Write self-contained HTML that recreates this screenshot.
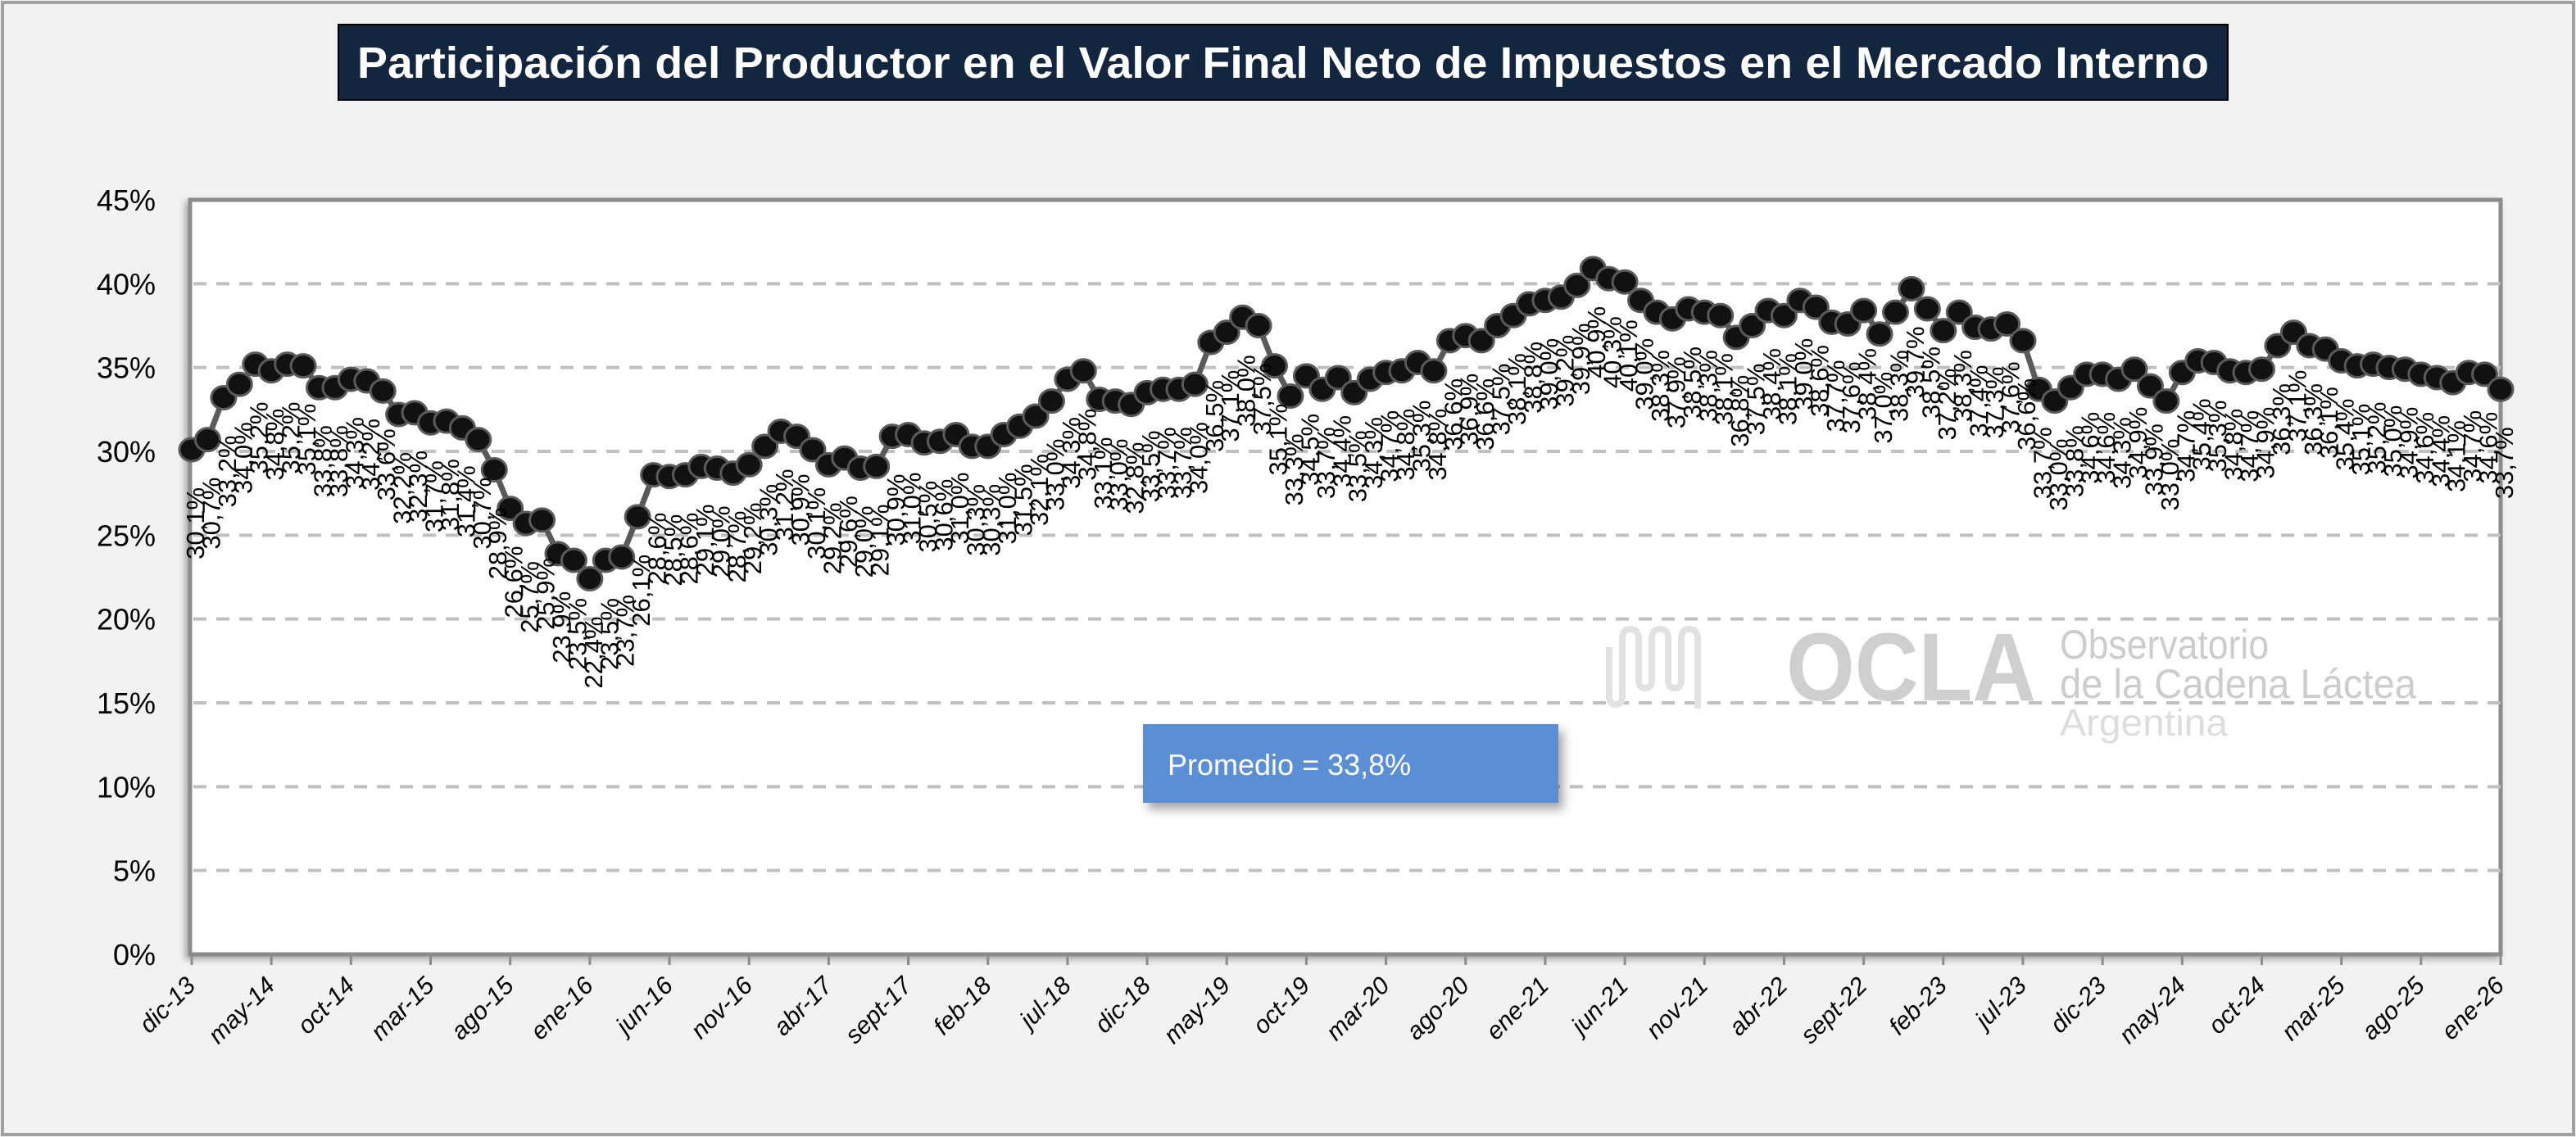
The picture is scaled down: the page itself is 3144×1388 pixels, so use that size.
<!DOCTYPE html>
<html><head><meta charset="utf-8"><style>
html,body{margin:0;padding:0;background:#f2f2f2;}
svg{display:block;font-family:"Liberation Sans",sans-serif;}
</style></head><body>
<svg id="chart" width="3144" height="1388" viewBox="0 0 3144 1388" xmlns="http://www.w3.org/2000/svg">
<defs>
<filter id="sh" x="-10%" y="-10%" width="130%" height="140%"><feDropShadow dx="6" dy="8" stdDeviation="6" flood-color="#000" flood-opacity="0.35"/></filter>
<filter id="sh2" x="-2%" y="-2%" width="104%" height="104%"><feDropShadow dx="-4" dy="4" stdDeviation="4" flood-color="#000" flood-opacity="0.3"/></filter>
</defs>
<rect x="3" y="3" width="3138" height="1382" fill="#f2f2f2" stroke="#a0a0a0" stroke-width="4"/>
<rect x="413" y="30" width="2306" height="92" fill="#12263f" stroke="#000" stroke-width="2"/>
<text x="1566" y="95" text-anchor="middle" fill="#fff" font-weight="bold" font-size="54" textLength="2260" lengthAdjust="spacingAndGlyphs">Participación del Productor en el Valor Final Neto de Impuestos en el Mercado Interno</text>
<rect x="232" y="244" width="2820" height="921" fill="#fff" stroke="#8c8c8c" stroke-width="5" filter="url(#sh2)"/>
<g id="grid"></g>
<g id="logo">
<path d="M1964 790 v60 q0 10 8 10 q8 0 8 -10 v-70 q0 -12 10 -12 q10 0 10 12 v50 q0 10 8 10 q8 0 8 -10 v-50 q0 -12 10 -12 q10 0 10 12 v50 q0 10 8 10 q8 0 8 -10 v-50 q0 -12 10 -12 q10 0 10 12 v85" fill="none" stroke="#e2e2e2" stroke-width="8"/>
<text x="2180" y="855" font-size="118" font-weight="bold" fill="#cfcfcf" textLength="305" lengthAdjust="spacingAndGlyphs">OCLA</text>
<text x="2514" y="804" font-size="50" fill="#cccccc" textLength="255" lengthAdjust="spacingAndGlyphs">Observatorio</text>
<text x="2514" y="852" font-size="50" fill="#cccccc" textLength="435" lengthAdjust="spacingAndGlyphs">de la Cadena Láctea</text>
<text x="2514" y="898" font-size="46" fill="#dddddd" textLength="205" lengthAdjust="spacingAndGlyphs">Argentina</text>
</g>
<g id="series"></g>
<g id="labels"></g>
<g id="axes"></g>
<rect x="1395" y="884" width="507" height="96" fill="#5a8fd6" filter="url(#sh)"/>
<text x="1425" y="946" font-size="36" fill="#fff">Promedio = 33,8%</text>
</svg>
<script>
const months = ["ene","feb","mar","abr","may","jun","jul","ago","sept","oct","nov","dic"];
const values = [30.1,30.7,33.2,34.0,35.2,34.8,35.2,35.1,33.8,33.8,34.3,34.2,33.6,32.2,32.3,31.7,31.8,31.4,30.7,28.9,
26.6,25.7,25.9,23.9,23.5,22.4,23.5,23.7,26.1,28.6,28.5,28.6,29.1,29.0,28.7,29.2,30.3,31.2,30.9,30.1,
29.2,29.6,29.0,29.1,30.9,31.0,30.5,30.6,31.0,30.3,30.3,31.0,31.5,32.1,33.0,34.3,34.8,33.1,33.0,32.8,
33.5,33.7,33.7,34.0,36.5,37.1,38.0,37.5,35.1,33.3,34.5,33.7,34.4,33.5,34.3,34.7,34.8,35.3,34.8,36.6,
36.9,36.6,37.5,38.1,38.8,39.0,39.2,39.9,40.9,40.3,40.1,39.0,38.3,37.9,38.5,38.3,38.1,36.8,37.5,38.4,
38.1,39.0,38.6,37.7,37.6,38.4,37.0,38.3,39.7,38.5,37.2,38.3,37.4,37.3,37.6,36.6,33.7,33.0,33.8,34.6,
34.6,34.3,34.9,33.9,33.0,34.7,35.4,35.3,34.8,34.7,34.9,36.3,37.1,36.3,36.1,35.4,35.1,35.2,35.0,34.9,
34.6,34.4,34.1,34.7,34.6,33.7];
const yTicks = [0,5,10,15,20,25,30,35,40,45];
const tickEvery = 5;
const startMonth = 11, startYear = 13;

const NS = "http://www.w3.org/2000/svg";
const X0 = 232, X1 = 3052, Y0 = 1165, Y1 = 244, YMAX = 45;
function xScale(i){ return X0 + 2 + i*(X1 - X0 - 2)/(values.length-1); }
function yScale(v){ return Y0 - v*(Y0-Y1)/YMAX; }
function mk(tag, attrs, parent){ const e=document.createElementNS(NS,tag); for(const k in attrs) e.setAttribute(k,attrs[k]); parent.appendChild(e); return e; }
function fmt(v){ return v.toFixed(1).replace('.',',')+'%'; }
function monthLabel(i){ const m=(startMonth+i)%12; const y=startYear+Math.floor((startMonth+i)/12); return months[m]+'-'+y; }

const grid=document.getElementById('grid'), axes=document.getElementById('axes');
yTicks.forEach(t=>{
  const y=yScale(t);
  if(t>0 && t<YMAX){
    const l=mk('line',{x1:X0+4,x2:X1,y1:y,y2:y,stroke:'#c0c0c0','stroke-width':4,'stroke-dasharray':'16 12'},grid);
    
    
  }
  const tx=mk('text',{x:190,y:y+13,'text-anchor':'end','font-size':36,fill:'#000'},axes);
  tx.textContent=t+'%';
  
  
});
for(let i=0;i<values.length;i+=tickEvery){
  const x=xScale(i);
  const tk=mk('line',{x1:x,x2:x,y1:Y0,y2:Y0+13,stroke:'#8c8c8c','stroke-width':3},axes);
  
  
  const tx=mk('text',{x:x+6,y:Y0+40,'text-anchor':'end','font-size':30,'font-style':'italic',fill:'#000',transform:`rotate(-45 ${x+6} ${Y0+40})`},axes);
  tx.textContent=monthLabel(i);
  
  
}
const series=document.getElementById('series'), labels=document.getElementById('labels');
const pts=values.map((v,i)=>xScale(i).toFixed(1)+','+yScale(v).toFixed(1)).join(' ');
const pl=mk('polyline',{points:pts,fill:'none',stroke:'#5a5a5a','stroke-width':7,'stroke-linejoin':'round'},series);


values.forEach((v,i)=>{
  const x=xScale(i), y=yScale(v);
  const c=mk('ellipse',{cx:x,cy:y,rx:15,ry:14,fill:'#111','stroke':'#5a5a5a','stroke-width':3},series);
  
  
  const bx=x+15, by=y+46;
  const t=mk('text',{x:bx,y:by,'text-anchor':'end','font-size':31,fill:'#000',transform:`rotate(-90 ${bx} ${by})`},labels);
  t.textContent=fmt(v);
  
  
});
</script>
</body></html>
